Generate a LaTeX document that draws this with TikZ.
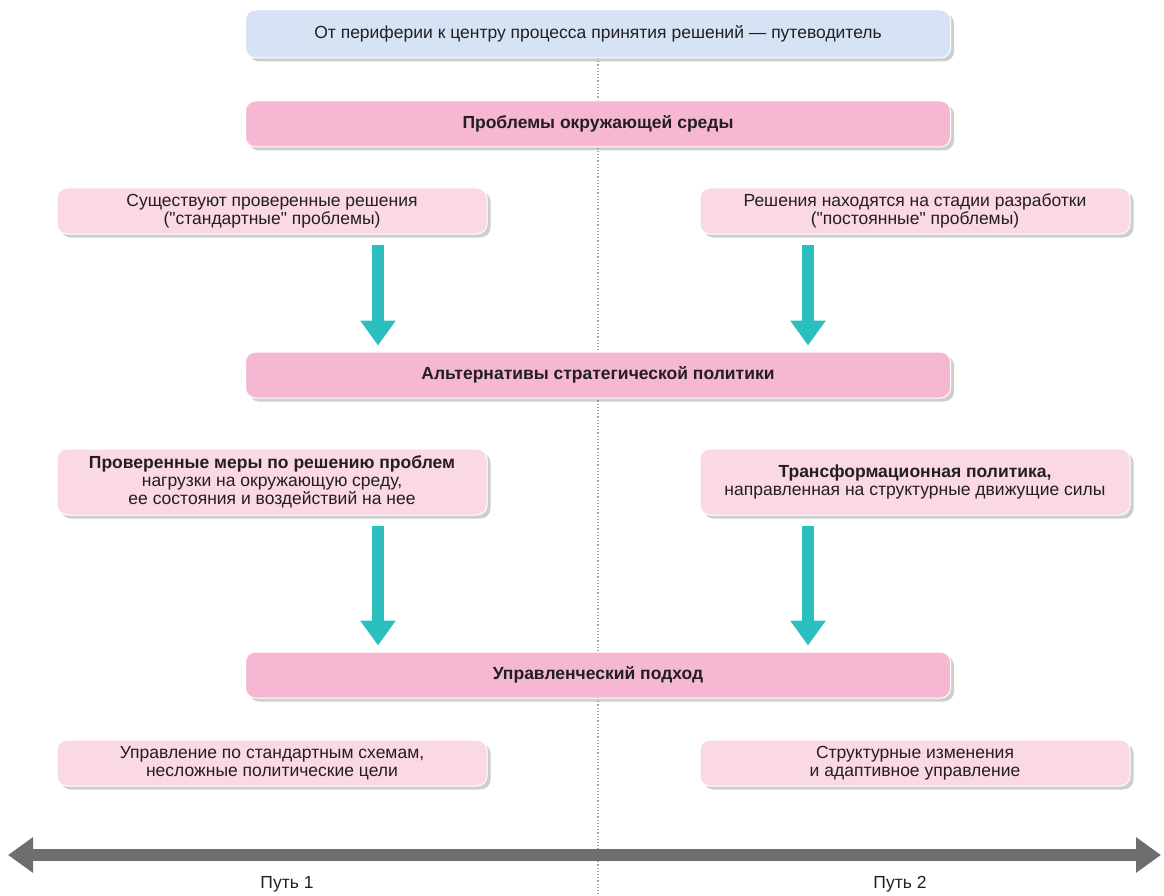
\documentclass[tikz,border=0pt]{standalone}
\usepackage{fontspec}
\setmainfont{Liberation Sans}
\usetikzlibrary{arrows.meta,shadows}

\definecolor{kopfblau}{HTML}{D5E3F5}
\definecolor{kopfrosa}{HTML}{F5B7D2}
\definecolor{hellrosa}{HTML}{FAD8E5}
\definecolor{tuerkis}{HTML}{2CBFBF}
\definecolor{pfadgrau}{HTML}{6D6E70}
\definecolor{schrift}{HTML}{231F20}

\begin{document}
\begin{tikzpicture}[x=1pt, y=-1pt, font=\fontsize{17.5}{18}\selectfont, text=schrift,
    kasten/.style={rounded corners=10pt, draw=white, line width=1pt, align=center,
        drop shadow={shadow xshift=3.5pt, shadow yshift=-3.5pt, opacity=.35, fill=black!55}},
    titel/.style={kasten, fill=kopfblau, minimum width=705pt, minimum height=48pt},
    stufe/.style={kasten, fill=kopfrosa, minimum width=705pt, minimum height=46pt, font=\fontsize{17.5}{18}\selectfont\bfseries},
    fall/.style={kasten, fill=hellrosa, minimum width=430pt},
    pfeil/.style={draw=tuerkis, line width=12pt, -{Triangle[length=25pt, width=34pt]}},
    weg/.style={draw=pfadgrau, line width=12pt, {Triangle[length=25pt, width=34pt]}-{Triangle[length=25pt, width=34pt]}}]

\useasboundingbox (0,0) rectangle (1164,896);

% mittellinie
\draw[gray!70, dotted, line width=1.2pt] (598,58) -- (598,894);

% titel und stufen
\node[titel] (t) at (598,34) {От периферии к центру процесса принятия решений — путеводитель};
\node[stufe] (h1) at (598,124) {Проблемы окружающей среды};
\node[stufe] (h2) at (598,375) {Альтернативы стратегической политики};
\node[stufe] (h3) at (598,675) {Управленческий подход};

% путь 1 (слева)
\node[fall, minimum height=46pt] (l1) at (272,211) {Существуют проверенные решения\\(\textquotedbl стандартные\textquotedbl{} проблемы)};
\node[fall, minimum height=66pt] (l2) at (272,482) {\textbf{Проверенные меры по решению проблем}\\нагрузки на окружающую среду,\\ее состояния и воздействий на нее};
\node[fall, minimum height=46pt] (l3) at (272,763) {Управление по стандартным схемам,\\несложные политические цели};

% путь 2 (справа)
\node[fall, minimum height=46pt] (r1) at (915,211) {Решения находятся на стадии разработки\\(\textquotedbl постоянные\textquotedbl{} проблемы)};
\node[fall, minimum height=66pt] (r2) at (915,482) {\textbf{Трансформационная политика,}\\направленная на структурные движущие силы};
\node[fall, minimum height=46pt] (r3) at (915,763) {Структурные изменения\\и адаптивное управление};

% стрелки
\coordinate (sl) at (378,0);
\coordinate (sr) at (808,0);
\draw[pfeil] ([yshift=-10pt]l1.south -| sl) -- ([yshift=6pt]h2.north -| sl);
\draw[pfeil] ([yshift=-10pt]r1.south -| sr) -- ([yshift=6pt]h2.north -| sr);
\draw[pfeil] ([yshift=-10pt]l2.south -| sl) -- ([yshift=6pt]h3.north -| sl);
\draw[pfeil] ([yshift=-10pt]r2.south -| sr) -- ([yshift=6pt]h3.north -| sr);

% ось путей
\coordinate (wl) at (8,855);
\coordinate (wr) at (1161,855);
\draw[weg] (wl) -- (wr);
\node (p1) at (287,884) {Путь 1};
\node (p2) at (900,884) {Путь 2};

\end{tikzpicture}
\end{document}
